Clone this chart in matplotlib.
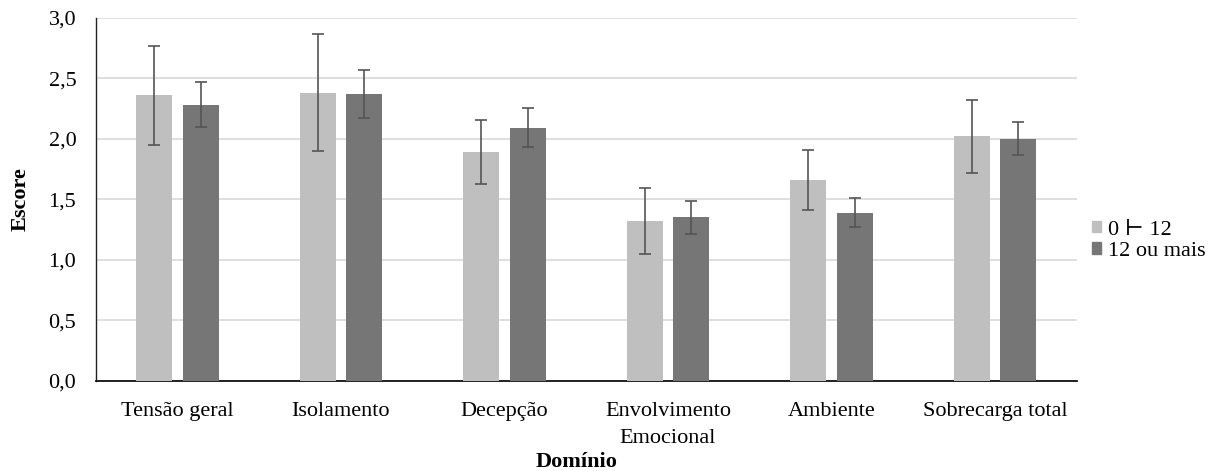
import matplotlib
matplotlib.use("Agg")
import matplotlib.pyplot as plt
import numpy as np
from matplotlib.patches import Patch

categories = ["Tensão geral", "Isolamento", "Decepção", "Envolvimento\nEmocional", "Ambiente", "Sobrecarga total"]
series_names = ["0 \u22a2 12", "12 ou mais"]
vals_a = [2.36, 2.38, 1.89, 1.32, 1.66, 2.02]
err_a = [0.41, 0.485, 0.265, 0.27, 0.25, 0.30]
vals_b = [2.28, 2.37, 2.09, 1.35, 1.39, 2.00]
err_b = [0.185, 0.195, 0.16, 0.135, 0.12, 0.135]
yticks = [0.0, 0.5, 1.0, 1.5, 2.0, 2.5, 3.0]
ytick_labels = ["0,0", "0,5", "1,0", "1,5", "2,0", "2,5", "3,0"]

plt.rcParams['font.family'] = ['Liberation Serif', 'DejaVu Serif']
FS = 16

fig = plt.figure(figsize=(12.21, 4.71), dpi=100)
ax = fig.add_axes([0.0784, 0.1917, 0.8034, 0.7707])

x = np.arange(len(categories))
w = 0.22
off = 0.1425
c_a = "#BFBFBF"
c_b = "#767676"
ekw = dict(ecolor="#555555", elinewidth=1.2, capsize=4, capthick=1.2)
ax.bar(x - off, vals_a, w, color=c_a, yerr=err_a, error_kw=ekw, zorder=3)
ax.bar(x + off, vals_b, w, color=c_b, yerr=err_b, error_kw=ekw, zorder=3)

ax.set_xlim(-0.5, len(categories) - 0.5)
ax.set_ylim(0, 3.0)
ax.set_yticks(yticks)
ax.set_yticklabels(ytick_labels, fontsize=FS)
ax.set_xticks(x)
ax.set_xticklabels(categories, fontsize=FS, linespacing=1.6)
ax.tick_params(axis='both', length=0)
ax.tick_params(axis='y', pad=14)
ax.tick_params(axis='x', pad=15)
ax.yaxis.grid(True, color="#D9D9D9", linewidth=1.2, zorder=0)
ax.set_axisbelow(True)
for s in ["top", "right"]:
    ax.spines[s].set_visible(False)
ax.spines["left"].set_color("#222222")
ax.spines["left"].set_linewidth(1.0)
ax.spines["bottom"].set_color("#111111")
ax.spines["bottom"].set_linewidth(1.3)

ax.set_ylabel("Escore", fontsize=FS, fontweight="bold")
ax.yaxis.set_label_coords(-0.066, 0.5)
ax.set_xlabel("Domínio", fontsize=FS, fontweight="bold")
ax.xaxis.set_label_coords(0.49, -0.196)

handles = [Patch(color=c_a), Patch(color=c_b)]
fig.legend(handles, series_names, loc="center left", bbox_to_anchor=(0.885, 0.489),
           frameon=False, fontsize=FS, handlelength=0.42, handleheight=0.42,
           handletextpad=0.3, labelspacing=0.1, borderpad=0)

fig.savefig("out.png", dpi=100, facecolor="white")
